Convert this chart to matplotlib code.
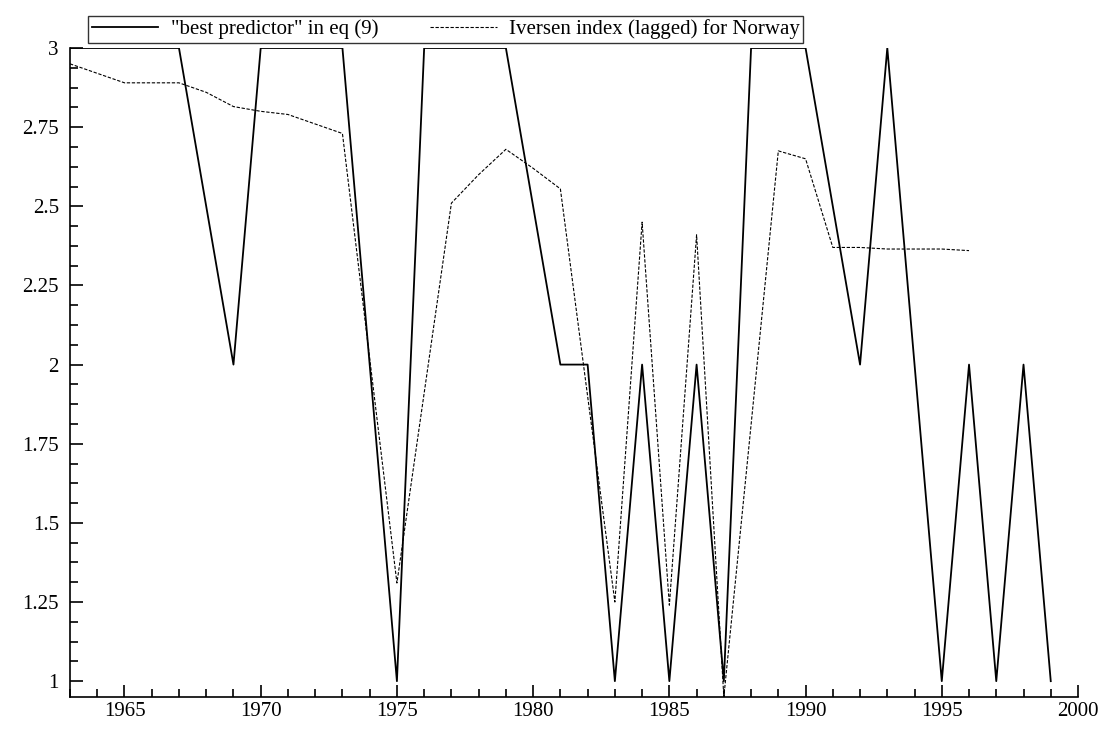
import matplotlib
matplotlib.use("Agg")
import matplotlib.pyplot as plt
from matplotlib.ticker import MultipleLocator

years = list(range(1963, 2000))
best = [3, 3, 3, 3, 3, 2.5, 2, 3, 3, 3, 3, 2, 1, 3, 3, 3, 3, 2.5, 2, 2, 1, 2, 1, 2, 1,
        3, 3, 3, 2.5, 2, 3, 2, 1, 2, 1, 2, 1]
iv_years = list(range(1963, 1997))
iversen = [2.95, 2.92, 2.89, 2.89, 2.89, 2.86, 2.815, 2.80, 2.79, 2.76, 2.73, 2.02, 1.31,
           1.91, 2.51, 2.60, 2.68, 2.62, 2.555, 1.90, 1.25, 2.45, 1.24, 2.41, 0.95,
           1.81, 2.675, 2.65, 2.37, 2.37, 2.365, 2.365, 2.365, 2.36]

plt.rcParams["font.family"] = ["Liberation Serif", "DejaVu Serif"]
fig = plt.figure(figsize=(11.04, 7.31), dpi=100)
W, H = 1104, 731
ax = fig.add_axes([70 / W, 1 - 697 / H, (1078 - 70) / W, (697 - 48) / H])

ax.plot(years, best, color="black", lw=1.3, label='"best predictor" in eq (9)')
ax.plot(iv_years, iversen, color="black", lw=0.8, ls=(0, (3, 1.5)),
        label="Iversen index (lagged) for Norway")

ax.set_xlim(1963, 2000)
ax.set_ylim(0.95, 3.0)
ax.xaxis.set_major_locator(MultipleLocator(5))
ax.xaxis.set_minor_locator(MultipleLocator(1))
ax.yaxis.set_minor_locator(MultipleLocator(0.0625))
ax.set_yticks([1, 1.25, 1.5, 1.75, 2, 2.25, 2.5, 2.75, 3])
ax.set_yticklabels(["1", "1.25", "1.5", "1.75", "2", "2.25", "2.5", "2.75", "3"])
ax.tick_params(which="both", direction="in", labelsize=15, width=1.2)
ax.tick_params(which="major", length=9)
ax.tick_params(which="minor", length=6)
ax.tick_params(axis="y", pad=8)
ax.spines["top"].set_visible(False)
ax.spines["right"].set_visible(False)
for s in ("left", "bottom"):
    ax.spines[s].set_linewidth(1.2)

leg = fig.legend(loc="upper left", bbox_to_anchor=(78 / W, 1 - 6 / H), ncol=2,
                 fontsize=15, frameon=True, fancybox=False, edgecolor="black",
                 handlelength=3.2, columnspacing=2.5, borderpad=0.15,
                 handletextpad=0.6)
leg.get_frame().set_linewidth(1.0)

fig.savefig("out.png", dpi=100)
